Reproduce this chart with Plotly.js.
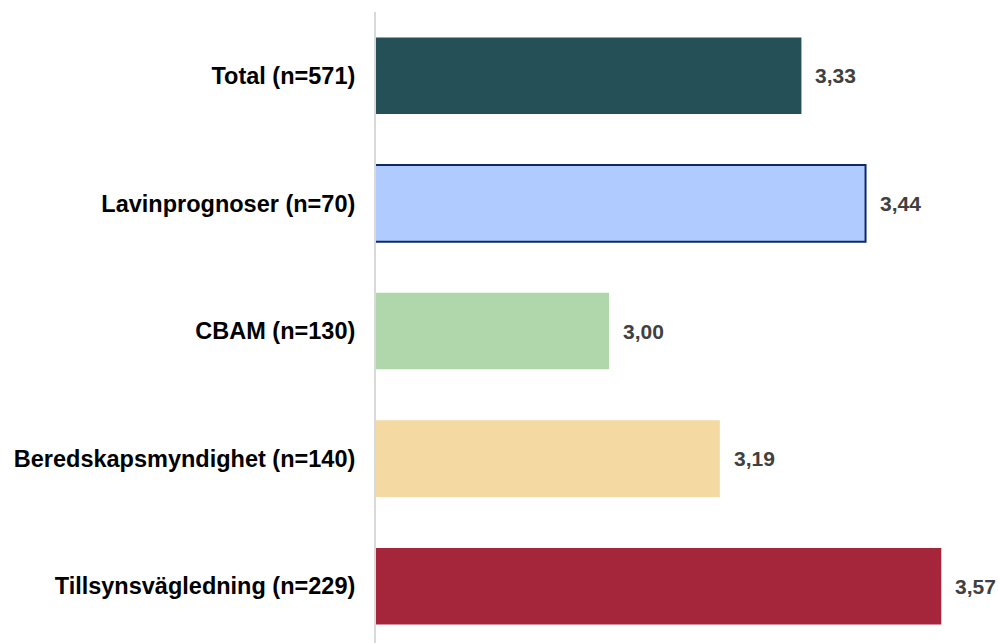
<!DOCTYPE html>
<html>
<head>
<meta charset="utf-8">
<script src="https://cdn.plot.ly/plotly-3.0.1.min.js"></script>
<style>html,body{margin:0;padding:0;background:#fff;}#chart{width:999px;height:643px;}</style>
</head>
<body>
<div id="chart"></div>
<script>
const categories = ["Total (n=571)", "Lavinprognoser (n=70)", "CBAM (n=130)", "Beredskapsmyndighet (n=140)", "Tillsynsvägledning (n=229)"];
const values = [3.33, 3.44, 3.00, 3.19, 3.57];
const valueLabels = ["3,33", "3,44", "3,00", "3,19", "3,57"];
const barColors = ["#255057", "#b0cbff", "#b0d7ab", "#f4d9a3", "#a5253a"];
const borderColors = ["#255057", "#0c2a6a", "#b0d7ab", "#f4d9a3", "#a5253a"];
const borderWidths = [0, 2, 0, 0, 0];

const trace = {
  type: "bar",
  orientation: "h",
  y: categories,
  x: values,
  width: 0.6,
  marker: {color: barColors, line: {color: borderColors, width: borderWidths}},
  hoverinfo: "skip"
};

const annotations = categories.map((c, i) => ({
  x: values[i], y: c, xref: "x", yref: "y",
  text: "<b>" + valueLabels[i] + "</b>", showarrow: false,
  xanchor: "left", yanchor: "middle", xshift: 12,
  font: {family: "Liberation Sans", size: 21, color: "#404040"}
}));

const layout = {
  width: 999, height: 643,
  margin: {l: 376, r: 0, t: 12, b: 0, pad: 0},
  paper_bgcolor: "#fff", plot_bgcolor: "#fff",
  showlegend: false,
  bargap: 0.4,
  xaxis: {range: [2.6, 3.669], showgrid: false, zeroline: false, showticklabels: false, ticks: "", showline: false, fixedrange: true},
  yaxis: {type: "category", range: [4.445, -0.5], showgrid: false, zeroline: false, ticks: "outside", ticklen: 14, tickcolor: "rgba(0,0,0,0)",
    showline: true, linecolor: "#d9d9d9", linewidth: 2,
    tickfont: {family: "Liberation Sans", size: 23.5, color: "#000", weight: "bold"}},
  annotations: annotations
};

Plotly.newPlot("chart", [trace], layout, {staticPlot: true, displayModeBar: false});
</script>
</body>
</html>
